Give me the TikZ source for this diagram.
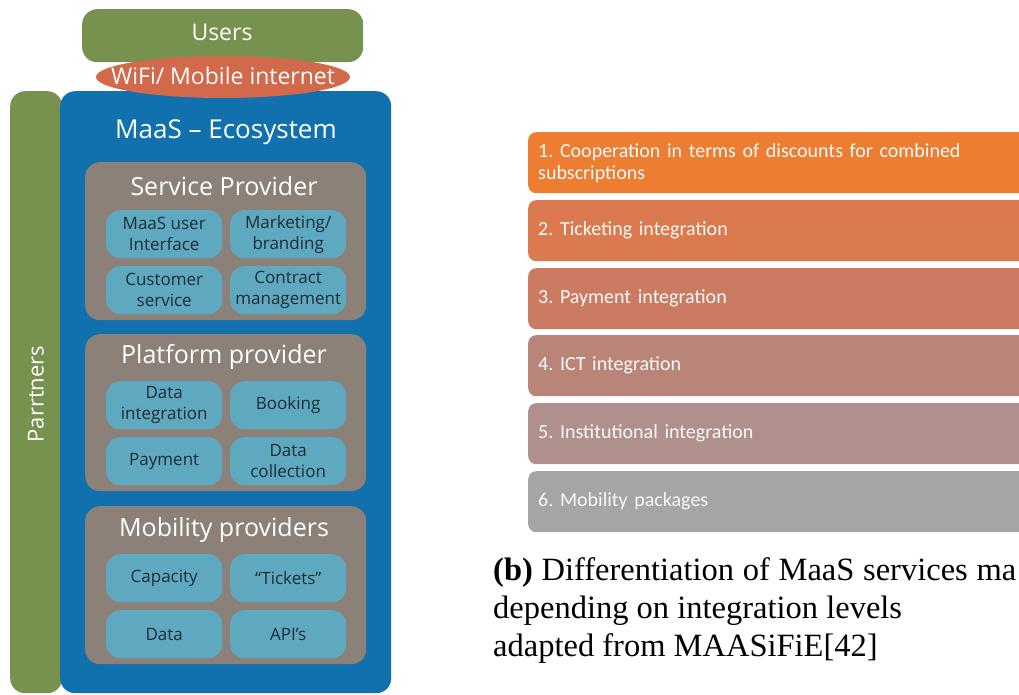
\documentclass[tikz,border=0pt]{standalone}
\usepackage{fontspec}
\setmainfont{Liberation Serif}
\newfontfamily\segoe{Open Sans}
\newfontfamily\calib{Carlito}
\usetikzlibrary{positioning,shapes.geometric}
\frenchspacing

\definecolor{usergreen}{HTML}{77924F}
\definecolor{wifired}{HTML}{D2694B}
\definecolor{maasblue}{HTML}{1170AE}
\definecolor{provgray}{HTML}{8C8179}
\definecolor{itemblue}{HTML}{5FA9C0}
\definecolor{itemtext}{HTML}{1E2B33}
\definecolor{lvlone}{HTML}{ED7D31}
\definecolor{lvltwo}{HTML}{DB7A4E}
\definecolor{lvlthree}{HTML}{CC7B63}
\definecolor{lvlfour}{HTML}{BA8579}
\definecolor{lvlfive}{HTML}{AF908D}
\definecolor{lvlsix}{HTML}{A5A5A5}

\tikzset{
  panel/.style={rectangle, rounded corners=15pt, inner sep=0pt, anchor=north west},
  grouptitle/.style={white, font=\segoe\fontsize{25}{30}\selectfont},
  item/.style={panel, fill=itemblue, rounded corners=14pt, minimum width=116pt,
    minimum height=48pt, align=center, text=itemtext,
    font=\segoe\fontsize{17}{21}\selectfont},
  level/.style={rectangle, rounded corners=8pt, anchor=north west, minimum width=520pt,
    minimum height=61pt, text width=500pt, inner xsep=9pt, align=left, text=white!95!gray,
    font=\calib\fontsize{20}{22}\selectfont}
}

\begin{document}
\begin{tikzpicture}[x=1pt, y=-1pt]
\useasboundingbox (0,0) rectangle (1019,695);
\clip (0,0) rectangle (1019,695);

% left: ecosystem
\node[panel, fill=usergreen, minimum width=281pt, minimum height=53pt] (users) at (82,9) {};
\node[white, font=\segoe\fontsize{23}{28}\selectfont] (userslbl) at (222,32) {Users};

\node[panel, fill=usergreen, minimum width=52pt, minimum height=602pt] (partners) at (10,91) {};
\node[rotate=90, white, font=\segoe\fontsize{22}{26}\selectfont] (partnerslbl) at (36,394) {Parrtners};

\node[panel, fill=maasblue, minimum width=331pt, minimum height=602pt] (maas) at (60,91) {};
\node[white, font=\segoe\fontsize{26}{31}\selectfont] (maaslbl) at (226,132) {MaaS – Ecosystem};

\node[ellipse, fill=wifired, inner sep=0pt, minimum width=254pt, minimum height=42pt] (wifi) at (223,77) {};
\node[white, font=\segoe\fontsize{23}{28}\selectfont] (wifilbl) at (223,76) {WiFi/ Mobile internet};

% service provider
\node[panel, fill=provgray, minimum width=281pt, minimum height=158pt] (service) at (85,162) {};
\node[grouptitle] (servicelbl) at (224,186) {Service Provider};
\node[item] (ui) at (106,210) {MaaS user\\Interface};
\node[item] (brand) at (230,210) {Marketing/\\branding};
\node[item] (custom) at (106,266) {Customer\\service};
\node[item] (contract) at (230,266) {Contract\\management};

% platform provider
\node[panel, fill=provgray, minimum width=281pt, minimum height=157pt] (platform) at (85,334) {};
\node[grouptitle] (platformlbl) at (224,357) {Platform provider};
\node[item] (dataint) at (106,381) {Data\\integration};
\node[item] (booking) at (230,381) {Booking};
\node[item] (payment) at (106,437) {Payment};
\node[item] (datacoll) at (230,437) {Data\\collection};

% mobility providers
\node[panel, fill=provgray, minimum width=281pt, minimum height=158pt] (mobility) at (85,506) {};
\node[grouptitle] (mobilitylbl) at (224,530) {Mobility providers};
\node[item] (capacity) at (106,554) {Capacity};
\node[item] (tickets) at (230,554) {“Tickets”};
\node[item] (data) at (106,610) {Data};
\node[item] (api) at (230,610) {API’s};

% right: integration levels
\node[level, fill=lvlone] (lvl1) at (528,132) {1. Cooperation in terms of discounts for combined\\subscriptions};
\node[level, fill=lvltwo] (lvl2) at (528,200) {2. Ticketing integration};
\node[level, fill=lvlthree] (lvl3) at (528,268) {3. Payment integration};
\node[level, fill=lvlfour] (lvl4) at (528,335) {4. ICT integration};
\node[level, fill=lvlfive] (lvl5) at (528,403) {5. Institutional integration};
\node[level, fill=lvlsix] (lvl6) at (528,471) {6. Mobility packages};

\node[anchor=north west, inner sep=0pt, align=left, font=\fontsize{32.5}{38}\selectfont] (caption) at (493,557)
  {\makebox[523pt][s]{\textbf{(b)} Differentiation of MaaS services ma}\\
   depending on integration levels\\
   adapted from MAASiFiE[42]};
\end{tikzpicture}
\end{document}
